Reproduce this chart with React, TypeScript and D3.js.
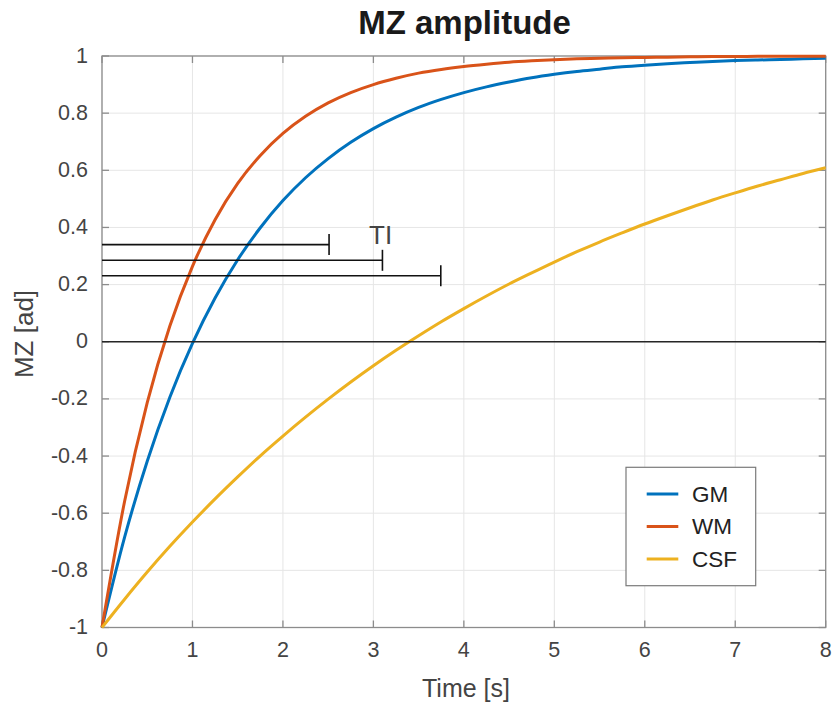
import React from "react";
import * as d3 from "d3";

const timeValues = [0, 0.25, 0.5, 0.75, 1, 1.25, 1.5, 1.75, 2, 2.25, 2.5, 2.75, 3, 3.25, 3.5, 3.75, 4, 4.25, 4.5, 4.75, 5, 5.25, 5.5, 5.75, 6, 6.25, 6.5, 6.75, 7, 7.25, 7.5, 7.75, 8];
const gmValues = [-1, -0.684, -0.418, -0.194, -0.006, 0.153, 0.287, 0.399, 0.494, 0.574, 0.641, 0.698, 0.746, 0.786, 0.82, 0.848, 0.872, 0.892, 0.909, 0.924, 0.936, 0.946, 0.954, 0.962, 0.968, 0.973, 0.977, 0.981, 0.984, 0.986, 0.988, 0.99, 0.992];
const wmValues = [-1, -0.558, -0.213, 0.055, 0.264, 0.427, 0.554, 0.652, 0.729, 0.789, 0.836, 0.872, 0.9, 0.922, 0.94, 0.953, 0.963, 0.971, 0.978, 0.983, 0.987, 0.99, 0.992, 0.994, 0.995, 0.996, 0.997, 0.998, 0.998, 0.999, 0.999, 0.999, 0.999];
const csfValues = [-1, -0.901, -0.806, -0.716, -0.631, -0.55, -0.473, -0.399, -0.33, -0.264, -0.201, -0.141, -0.084, -0.03, 0.021, 0.07, 0.116, 0.16, 0.202, 0.241, 0.279, 0.315, 0.349, 0.381, 0.412, 0.441, 0.469, 0.496, 0.521, 0.545, 0.567, 0.589, 0.609];

const seriesNames = ["GM", "WM", "CSF"];
const seriesColors = ["#0072BD", "#D95319", "#EDB120"];

const tiLevels = [0.34, 0.285, 0.231];
const tiTimes = [2.51, 3.1, 3.745];

const xTicks = [0, 1, 2, 3, 4, 5, 6, 7, 8];
const xTickLabels = ["0", "1", "2", "3", "4", "5", "6", "7", "8"];
const yTicks = [1, 0.8, 0.6, 0.4, 0.2, 0, -0.2, -0.4, -0.6, -0.8, -1];
const yTickLabels = ["1", "0.8", "0.6", "0.4", "0.2", "0", "-0.2", "-0.4", "-0.6", "-0.8", "-1"];

const FONT = "'Liberation Sans', Arial, Helvetica, sans-serif";

export default function App() {
  const left = 102, right = 825.7, top = 56, bottom = 627.5;
  const x = d3.scaleLinear().domain([0, 8]).range([left, right]);
  const y = d3.scaleLinear().domain([-1, 1]).range([bottom, top]);
  const seriesData = [gmValues, wmValues, csfValues];
  const line = d3
    .line<number>()
    .x((_, i) => x(timeValues[i]))
    .y((v) => y(v))
    .curve(d3.curveMonotoneX);
  const tickLen = 7;
  const axisColor = "#8c8c8c";
  const legendX = 626, legendY = 467.3, legendW = 129.7, legendH = 118.4;
  const legendRows = [494, 526.5, 559];

  return (
    <svg
      width={835}
      height={707}
      style={{ position: "absolute", left: 0, top: 0, background: "#fff" }}
      fontFamily={FONT}
    >
      <rect x={0} y={0} width={835} height={707} fill="#fff" />
      {xTicks.map((t) => (
        <line key={"gx" + t} x1={x(t)} x2={x(t)} y1={top} y2={bottom} stroke="#e6e6e6" strokeWidth={1} />
      ))}
      {yTicks.map((t) => (
        <line key={"gy" + t} x1={left} x2={right} y1={y(t)} y2={y(t)} stroke="#e6e6e6" strokeWidth={1} />
      ))}
      <rect x={left} y={top} width={right - left} height={bottom - top} fill="none" stroke={axisColor} strokeWidth={1.3} />
      {xTicks.map((t) => (
        <g key={"tx" + t}>
          <line x1={x(t)} x2={x(t)} y1={bottom} y2={bottom - tickLen} stroke={axisColor} strokeWidth={1.3} />
          <line x1={x(t)} x2={x(t)} y1={top} y2={top + tickLen} stroke={axisColor} strokeWidth={1.3} />
        </g>
      ))}
      {yTicks.map((t) => (
        <g key={"ty" + t}>
          <line x1={left} x2={left + tickLen} y1={y(t)} y2={y(t)} stroke={axisColor} strokeWidth={1.3} />
          <line x1={right} x2={right - tickLen} y1={y(t)} y2={y(t)} stroke={axisColor} strokeWidth={1.3} />
        </g>
      ))}
      {xTicks.map((t, i) => (
        <text key={"lx" + t} x={x(t)} y={657} textAnchor="middle" fontSize={21.5} fill="#444">
          {xTickLabels[i]}
        </text>
      ))}
      {yTicks.map((t, i) => (
        <text key={"ly" + t} x={88} y={y(t) + 6.5} textAnchor="end" fontSize={21.5} fill="#444">
          {yTickLabels[i]}
        </text>
      ))}
      {seriesData.map((vals, i) => (
        <path key={"s" + i} d={line(vals) || ""} fill="none" stroke={seriesColors[i]} strokeWidth={3} strokeLinejoin="round" />
      ))}
      <line x1={x(0)} x2={x(8)} y1={y(0)} y2={y(0)} stroke="#262626" strokeWidth={1.6} />
      {tiLevels.map((lv, i) => (
        <g key={"ti" + i}>
          <line x1={x(0)} x2={x(tiTimes[i])} y1={y(lv)} y2={y(lv)} stroke="#111" strokeWidth={1.6} />
          <line x1={x(tiTimes[i])} x2={x(tiTimes[i])} y1={y(lv) - 10.5} y2={y(lv) + 10.5} stroke="#111" strokeWidth={1.6} />
        </g>
      ))}
      <text x={369} y={244} fontSize={26} fill="#444">TI</text>
      <rect x={legendX} y={legendY} width={legendW} height={legendH} fill="#fff" stroke="#7a7a7a" strokeWidth={1.2} />
      {seriesNames.map((n, i) => (
        <g key={"lg" + n}>
          <line x1={646.7} x2={678.3} y1={legendRows[i]} y2={legendRows[i]} stroke={seriesColors[i]} strokeWidth={3} />
          <text x={692} y={legendRows[i] + 7.5} fontSize={22.5} fill="#222">
            {n}
          </text>
        </g>
      ))}
      <text x={464.5} y={33.5} textAnchor="middle" fontSize={33} fontWeight="bold" fill="#1a1a1a">
        MZ amplitude
      </text>
      <text x={466} y={696.5} textAnchor="middle" fontSize={25} fill="#444">
        Time [s]
      </text>
      <text transform="translate(33,334) rotate(-90)" textAnchor="middle" fontSize={26} fill="#444">
        MZ [ad]
      </text>
    </svg>
  );
}
